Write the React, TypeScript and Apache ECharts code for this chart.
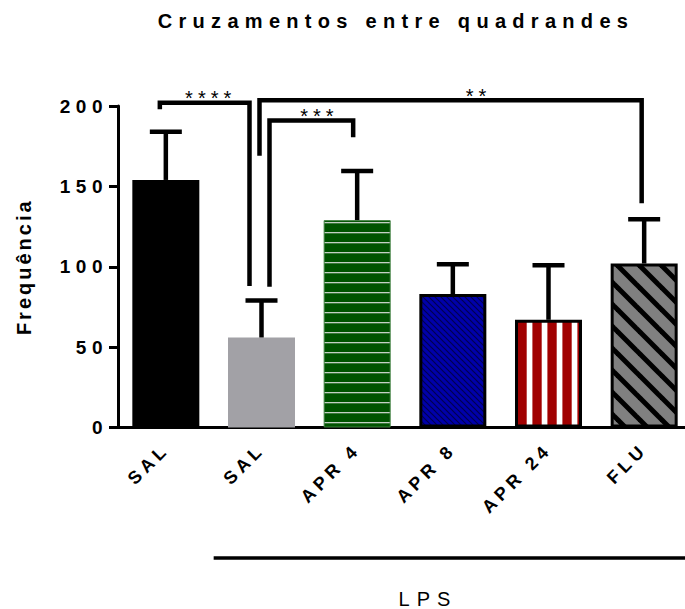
import React, { useEffect, useRef } from 'react';
import * as echarts from 'echarts';

// ---------- data ----------
const titleText = 'Cruzamentos entre quadrandes';
const yAxisName = 'Frequência';
const categories = ['SAL', 'SAL', 'APR 4', 'APR 8', 'APR 24', 'FLU'];
const meanValues = [154, 56, 129, 83, 67, 102];
const semValues = [30, 23, 30.5, 18.5, 34, 27.5];
const yMin = 0;
const yMax = 200;
const yStep = 50;
const groupLabel = 'LPS';
const groupFrom = 1;
const groupTo = 5;
const bracketFrom = [0, 1, 1];
const bracketTo = [1, 2, 5];
const bracketTop = [202, 191, 203.5];
const bracketLeftEnd = [198, 87.5, 169];
const bracketRightEnd = [88, 180.5, 139.5];
const bracketLabels = ['****', '***', '**'];

// ---------- layout / style ----------
const GRID_LEFT = 118;
const GRID_TOP = 106;
const GRID_W = 574;
const GRID_H = 321.5;
const BAND = GRID_W / categories.length;
const legDx = [[-6, -12], [8, -4], [-2, -2.5]];
const labelDx = [6, 8, 28];

const FF_TITLE = 'Liberation Sans, Arimo';
const FF_YLAB = 'Liberation Sans, Helvetica';
const FF_XLAB = 'Liberation Sans, Arial';
const FF_YNAME = 'Liberation Sans, FreeSans';
const FF_GROUP = 'Liberation Sans, Nimbus Sans';
const FF_STARS = 'Liberation Sans, TeX Gyre Heros';

const css = `
#chart text[style*="Arimo"]{letter-spacing:6.3px}
#chart text[style*="Helvetica"]{letter-spacing:5.5px}
#chart text[style*="Arial"]{letter-spacing:4.5px}
#chart text[style*="FreeSans"]{letter-spacing:3px}
#chart text[style*="Nimbus"]{letter-spacing:7px}
#chart text[style*="Heros"]{letter-spacing:5px}
`;

function makePattern(w: number, h: number, draw: (ctx: CanvasRenderingContext2D) => void) {
  const c = document.createElement('canvas');
  c.width = w;
  c.height = h;
  const ctx = c.getContext('2d') as CanvasRenderingContext2D;
  draw(ctx);
  return { image: c.toDataURL(), repeat: 'repeat', imageWidth: w, imageHeight: h } as any;
}

function diag(ctx: CanvasRenderingContext2D, p: number) {
  for (let k = -1; k <= 1; k++) {
    ctx.beginPath();
    ctx.moveTo(-p * 0.3, -p * 0.3 + k * p);
    ctx.lineTo(p * 1.3, p * 1.3 + k * p);
    ctx.stroke();
  }
}

function buildOption() {
  const green = makePattern(4, 10, (ctx) => {
    ctx.fillStyle = '#005300';
    ctx.fillRect(0, 0, 4, 10);
    ctx.fillStyle = '#c4cfc4';
    ctx.fillRect(0, 2, 4, 1.3);
  });
  const blue = makePattern(6, 6, (ctx) => {
    ctx.fillStyle = '#0000aa';
    ctx.fillRect(0, 0, 6, 6);
    ctx.strokeStyle = '#000050';
    ctx.lineWidth = 1.2;
    diag(ctx, 6);
  });
  const red = makePattern(15, 2, (ctx) => {
    ctx.fillStyle = '#a00000';
    ctx.fillRect(0, 0, 15, 2);
    ctx.fillStyle = '#ffffff';
    ctx.fillRect(1.7, 0, 5.7, 2);
  });
  const gray = makePattern(22, 22, (ctx) => {
    ctx.fillStyle = '#808080';
    ctx.fillRect(0, 0, 22, 22);
    ctx.strokeStyle = '#000000';
    ctx.lineWidth = 5;
    diag(ctx, 22);
  });

  const barStyles = [
    { color: '#000000' },
    { color: '#a2a1a6' },
    { color: green, borderColor: '#3f7f3f', borderWidth: 1 },
    { color: blue, borderColor: '#000000', borderWidth: 3 },
    { color: red, borderColor: '#000000', borderWidth: 3 },
    { color: gray, borderColor: '#000000', borderWidth: 3 },
  ];

  const groupX1 = GRID_LEFT + groupFrom * BAND;
  const groupX2 = GRID_LEFT + (groupTo + 1) * BAND;

  return {
    animation: false,
    backgroundColor: '#ffffff',
    grid: {
      left: GRID_LEFT,
      top: GRID_TOP,
      width: GRID_W,
      height: GRID_H,
      containLabel: false,
      outerBoundsMode: 'none',
    },
    xAxis: {
      type: 'category',
      data: categories,
      axisLine: { lineStyle: { color: '#000', width: 3 } },
      axisTick: { alignWithLabel: true, length: 8, lineStyle: { color: '#000', width: 3 } },
      axisLabel: {
        rotate: 45,
        margin: 19,
        color: '#000',
        fontSize: 18,
        fontWeight: 'bold',
        fontFamily: FF_XLAB,
        interval: 0,
      },
      splitLine: { show: false },
    },
    yAxis: {
      type: 'value',
      min: yMin,
      max: yMax,
      interval: yStep,
      name: yAxisName,
      nameLocation: 'middle',
      nameRotate: 90,
      nameGap: 84,
      nameTextStyle: { color: '#000', fontSize: 20, fontWeight: 'bold', fontFamily: FF_YNAME },
      axisLine: { show: true, lineStyle: { color: '#000', width: 3 } },
      axisTick: { show: true, length: 9, lineStyle: { color: '#000', width: 3 } },
      axisLabel: { margin: 10, color: '#000', fontSize: 19, fontWeight: 'bold', fontFamily: FF_YLAB },
      splitLine: { show: false },
    },
    series: [
      {
        type: 'bar',
        barWidth: 67,
        data: meanValues.map((v, i) => ({ value: v, itemStyle: barStyles[i] })),
        z: 2,
      },
      {
        type: 'custom',
        z: 3,
        data: meanValues.map((v, i) => [i, v, semValues[i]]),
        renderItem: (params: any, api: any) => {
          const i = api.value(0);
          const m = api.value(1);
          const e = api.value(2);
          const base = api.coord([i, m]);
          const top = api.coord([i, m + e]);
          return {
            type: 'group',
            children: [
              { type: 'line', shape: { x1: base[0], y1: base[1], x2: top[0], y2: top[1] }, style: { stroke: '#000', lineWidth: 4.5 } },
              { type: 'line', shape: { x1: top[0] - 16, y1: top[1], x2: top[0] + 16, y2: top[1] }, style: { stroke: '#000', lineWidth: 4.5 } },
            ],
          };
        },
      },
      {
        type: 'custom',
        z: 4,
        clip: false,
        data: bracketLabels.map((_, k) => [k, bracketTop[k]]),
        renderItem: (params: any, api: any) => {
          const k = api.value(0);
          const pTop = api.coord([bracketFrom[k], bracketTop[k]]);
          const xL = pTop[0] + legDx[k][0];
          const xR = api.coord([bracketTo[k], bracketTop[k]])[0] + legDx[k][1];
          const yT = pTop[1];
          const yL = api.coord([bracketFrom[k], bracketLeftEnd[k]])[1];
          const yR = api.coord([bracketTo[k], bracketRightEnd[k]])[1];
          return {
            type: 'group',
            children: [
              {
                type: 'polyline',
                shape: { points: [[xL, yL], [xL, yT], [xR, yT], [xR, yR]] },
                style: { stroke: '#000', lineWidth: 4.5, fill: null, lineJoin: 'miter' },
              },
              {
                type: 'text',
                x: (xL + xR) / 2 + labelDx[k],
                y: yT - 4.5,
                style: {
                  text: bracketLabels[k],
                  fill: '#000',
                  fontSize: 20,
                  fontFamily: FF_STARS,
                  align: 'center',
                  verticalAlign: 'middle',
                  textAlign: 'center',
                  textVerticalAlign: 'middle',
                },
              },
            ],
          };
        },
      },
    ],
    graphic: [
      {
        type: 'text',
        x: 396,
        y: 21,
        style: {
          text: titleText,
          fill: '#000',
          fontSize: 20,
          fontWeight: 'bold',
          fontFamily: FF_TITLE,
          align: 'center',
          verticalAlign: 'middle',
          textAlign: 'center',
          textVerticalAlign: 'middle',
        },
      },
      {
        type: 'line',
        shape: { x1: groupX1, y1: 558, x2: groupX2, y2: 558 },
        style: { stroke: '#000', lineWidth: 3.5 },
      },
      {
        type: 'text',
        x: 428,
        y: 599,
        style: {
          text: groupLabel,
          fill: '#000',
          fontSize: 20,
          fontFamily: FF_GROUP,
          align: 'center',
          verticalAlign: 'middle',
          textAlign: 'center',
          textVerticalAlign: 'middle',
        },
      },
    ],
  };
}

export default function App() {
  const ref = useRef<HTMLDivElement>(null);
  useEffect(() => {
    if (!ref.current) return;
    const chart = echarts.init(ref.current, null, { renderer: 'svg' });
    chart.setOption(buildOption() as any);
    return () => chart.dispose();
  }, []);
  return (
    <div style={{ position: 'fixed', left: 0, top: 0, width: 685, height: 609, background: '#fff' }}>
      <style>{css}</style>
      <div id="chart" ref={ref} style={{ width: 685, height: 609 }} />
    </div>
  );
}
